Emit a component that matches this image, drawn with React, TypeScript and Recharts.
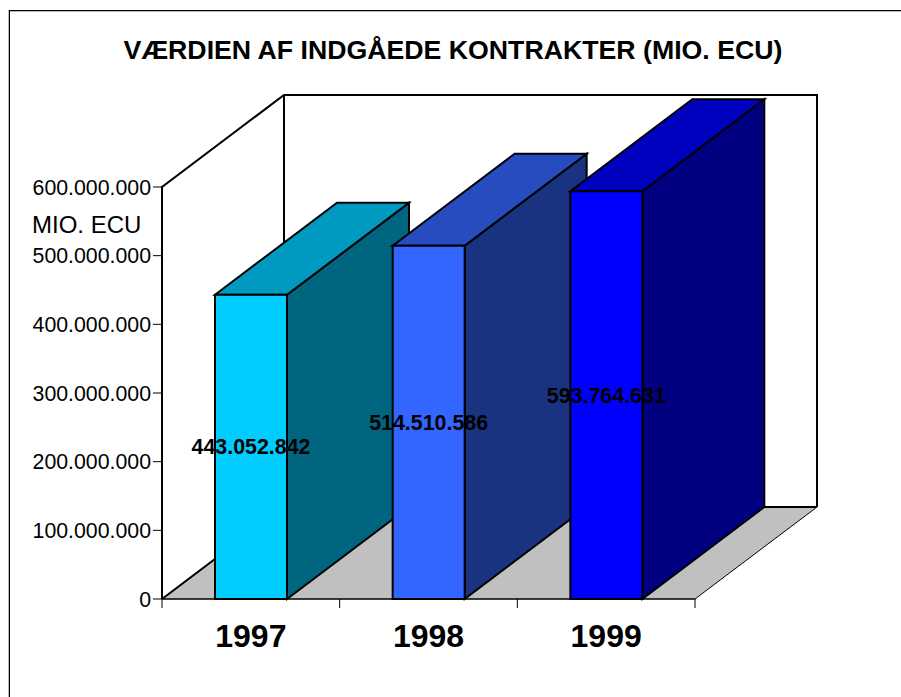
import { BarChart, Bar, XAxis, YAxis, ReferenceArea, LabelList } from 'recharts';

const years = ['1997', '1998', '1999'];
const values = [443052842, 514510586, 593764631];
const yTicks = [0, 100000000, 200000000, 300000000, 400000000, 500000000, 600000000];
const frontColors = ['#00CCFF', '#3366FF', '#0000FF'];
const topColors = ['#0099BF', '#264CBF', '#0000BF'];
const sideColors = ['#006680', '#1A3380', '#000080'];

const data = years.map((year, i) => ({ year, value: values[i], index: i }));

const depthX = 122;
const depthY = 92;
const plotWidth = 533;
const band = plotWidth / years.length;
const font = '"Liberation Sans", Arial, sans-serif';

const dots = (v: number) => String(v).replace(/\B(?=(\d{3})+(?!\d))/g, '.');

function pts(list: number[][]) {
  return list.map((p) => p.join(',')).join(' ');
}

// x1/x2 are the first and last category, so widen the box back out to the whole plot
function Walls({ y, height }: any) {
  const x = 162;
  const bottom = y + height;
  const right = x + plotWidth;
  return (
    <g>
      <polygon
        points={pts([[x, bottom], [x + depthX, bottom - depthY], [right + depthX, bottom - depthY], [right, bottom]])}
        fill="#C0C0C0"
        stroke="#000"
        strokeWidth={1}
      />
      <polyline
        points={pts([[x, bottom], [x, y], [x + depthX, y - depthY], [right + depthX, y - depthY], [right + depthX, bottom - depthY]])}
        fill="none"
        stroke="#000"
        strokeWidth={2}
      />
      <line x1={x + depthX} y1={y - depthY} x2={x + depthX} y2={bottom - depthY} stroke="#000" strokeWidth={2} />
      <polyline
        points={pts([[x, bottom], [x + depthX, bottom - depthY], [right + depthX, bottom - depthY]])}
        fill="none"
        stroke="#000"
        strokeWidth={2}
      />
    </g>
  );
}

function Box3D({ x, y, width, height, index }: any) {
  const right = x + width;
  const bottom = y + height;
  return (
    <g stroke="#000" strokeWidth={2} strokeLinejoin="miter">
      <polygon
        points={pts([[right, y], [right + depthX, y - depthY], [right + depthX, bottom - depthY], [right, bottom]])}
        fill={sideColors[index]}
      />
      <polygon
        points={pts([[x, y], [x + depthX, y - depthY], [right + depthX, y - depthY], [right, y]])}
        fill={topColors[index]}
      />
      <rect x={x} y={y} width={width} height={height} fill={frontColors[index]} />
    </g>
  );
}

function YearTick({ x, y, payload, index }: any) {
  return (
    <g>
      <line x1={x - band / 2} y1={599} x2={x - band / 2} y2={608} stroke="#000" strokeWidth={1} />
      {index === years.length - 1 && (
        <line x1={x + band / 2} y1={599} x2={x + band / 2} y2={608} stroke="#000" strokeWidth={1} />
      )}
      <text x={x} y={y + 40} textAnchor="middle" fontFamily={font} fontSize={32} fontWeight="bold" fill="#000">
        {payload.value}
      </text>
    </g>
  );
}

export default function App() {
  return (
    <div style={{ position: 'absolute', left: 0, top: 0, width: 901, height: 697, background: '#fff', overflow: 'hidden' }}>
      <div
        style={{
          position: 'absolute',
          left: 9,
          top: 10,
          width: 901,
          height: 687,
          borderLeft: '1px solid #000',
          borderTop: '1px solid #000',
          boxShadow: '-1px 0 0 #bbb, inset 0 1px 0 #bbb',
        }}
      />
      <div style={{ position: 'absolute', left: 0, top: 0 }}>
        <BarChart
          width={901}
          height={697}
          data={data}
          margin={{ left: 0, top: 187, right: 206, bottom: 0 }}
          barSize={72}
          style={{ overflow: 'visible' }}
        >
          <text x={453} y={59} textAnchor="middle" fontFamily={font} fontSize={26.7} fontWeight="bold" fill="#000">
            VÆRDIEN AF INDGÅEDE KONTRAKTER (MIO. ECU)
          </text>
          <text x={32} y={233} fontFamily={font} fontSize={24} fill="#000">
            MIO. ECU
          </text>
          <XAxis
            dataKey="year"
            axisLine={{ stroke: '#000', strokeWidth: 1 }}
            tickLine={false}
            tick={<YearTick />}
            interval={0}
            height={98}
          />
          <YAxis
            type="number"
            domain={[0, 600000000]}
            ticks={yTicks}
            tickFormatter={dots}
            width={162}
            axisLine={false}
            tickLine={{ stroke: '#000', strokeWidth: 1 }}
            tickSize={9}
            tickMargin={2}
            tick={{ fill: '#000', fontFamily: font, fontSize: 21.3 }}
            interval={0}
          />
          <ReferenceArea x1="1997" x2="1999" y1={0} y2={600000000} ifOverflow="visible" shape={<Walls />} />
          <Bar dataKey="value" shape={<Box3D />} isAnimationActive={false}>
            <LabelList
              dataKey="value"
              position="center"
              formatter={dots}
              fill="#000"
              fontFamily={font}
              fontSize={21.4}
              fontWeight="bold"
            />
          </Bar>
        </BarChart>
      </div>
    </div>
  );
}
